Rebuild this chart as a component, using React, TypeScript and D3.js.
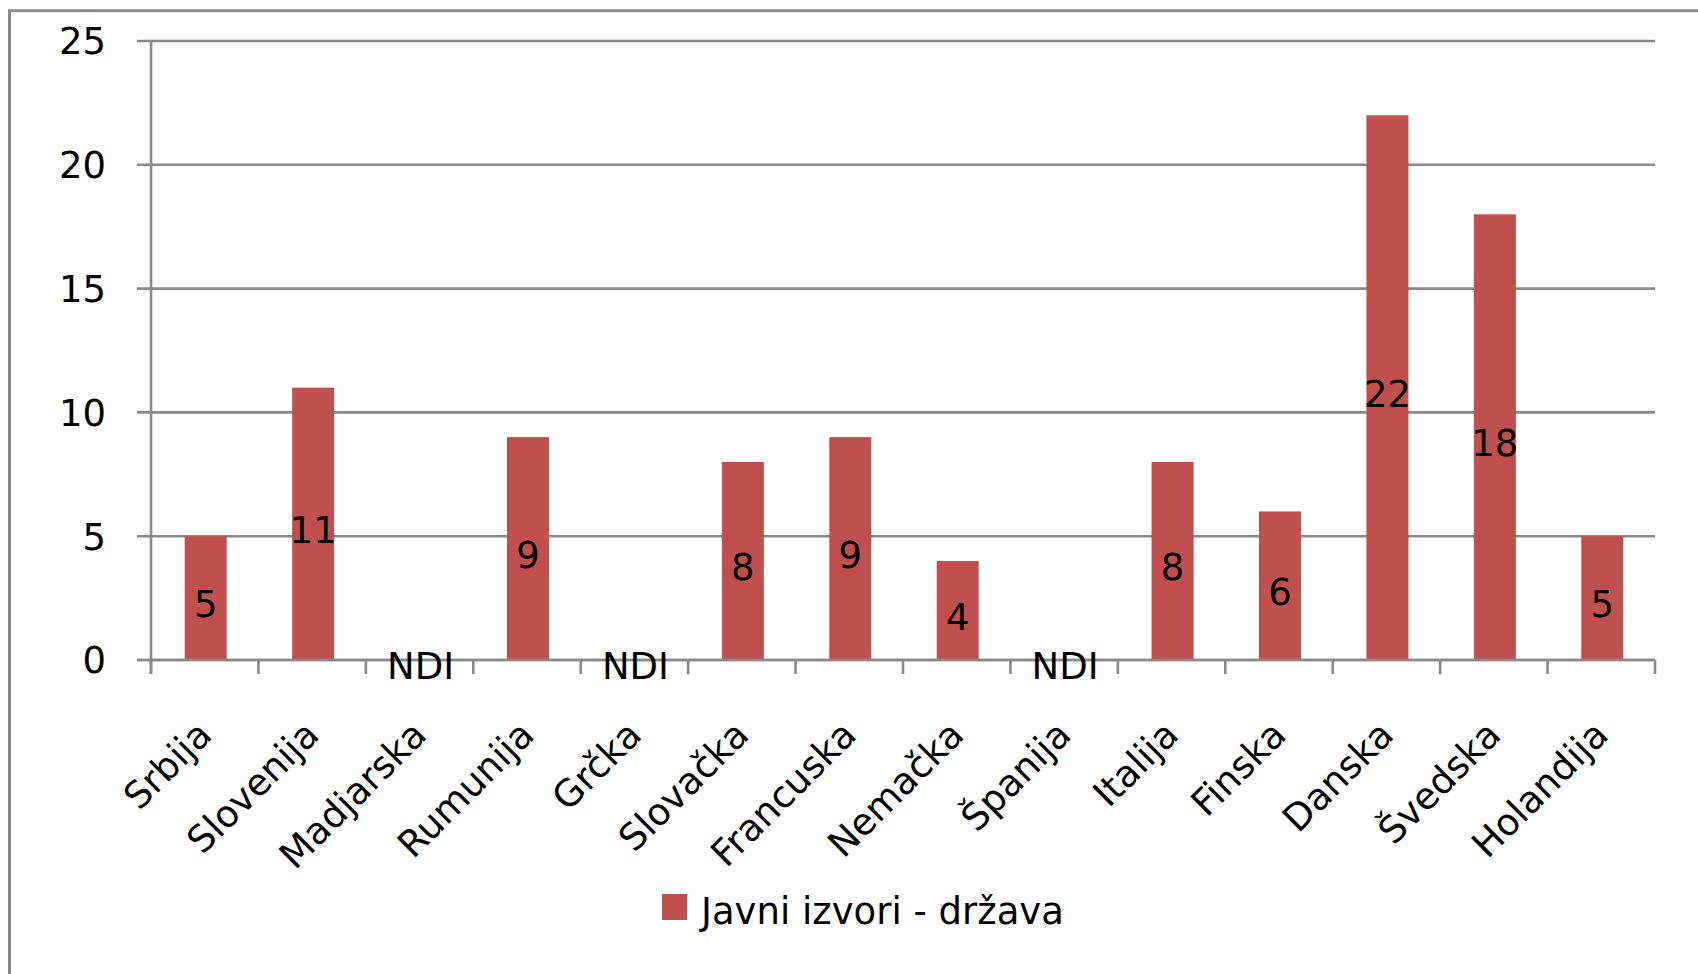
import React from "react";
import * as d3 from "d3";

const categories = [
  "Srbija", "Slovenija", "Madjarska", "Rumunija", "Grčka", "Slovačka", "Francuska",
  "Nemačka", "Španija", "Italija", "Finska", "Danska", "Švedska", "Holandija",
];
const values: (number | null)[] = [5, 11, null, 9, null, 8, 9, 4, null, 8, 6, 22, 18, 5];
const missingLabel = "NDI";
const yTicks = [0, 5, 10, 15, 20, 25];
const seriesName = "Javni izvori - država";

const W = 1698;
const H = 974;
const FONT = "'DejaVu Sans', sans-serif";
const GRID = "#8a8a8a";
const BAR = "#C0504D";

export default function App() {
  const left = 151;
  const right = 1655;
  const top = 41;
  const bottom = 660;

  const x = d3
    .scaleBand<string>()
    .domain(categories)
    .range([left + 1, right + 1])
    .paddingInner(0.609)
    .paddingOuter(0.3045);
  const step = x.step();
  const y = d3.scaleLinear().domain([0, 25]).range([bottom, top]);

  const boundaries = d3.range(categories.length + 1).map((i) => left + i * step);

  return (
    <svg width={W} height={H} style={{ position: "absolute", left: 0, top: 0, background: "#fff" }} fontFamily={FONT}>
      <defs>
        <clipPath id="plotclip">
          <rect x={0} y={0} width={W} height={679} />
        </clipPath>
      </defs>
      <rect x={9.5} y={10.7} width={W + 20} height={H + 20} fill="#fff" stroke={GRID} strokeWidth={3} />

      {yTicks.map((t) => (
        <line key={"g" + t} x1={137} x2={right} y1={y(t)} y2={y(t)} stroke={GRID} strokeWidth={2.6} />
      ))}
      <line x1={left} x2={left} y1={top} y2={bottom + 14} stroke={GRID} strokeWidth={2.6} />
      {boundaries.map((b, i) => (
        <line key={"t" + i} x1={b} x2={b} y1={bottom} y2={bottom + 14} stroke={GRID} strokeWidth={2.6} />
      ))}

      {yTicks.map((t) => (
        <text key={"yl" + t} x={106} y={y(t)} dy="0.36em" textAnchor="end" fontSize={37} fill="#000">
          {t}
        </text>
      ))}

      {categories.map((c, i) => {
        const v = values[i];
        if (v == null) return null;
        return <rect key={"b" + c} x={x(c)!} y={y(v)} width={x.bandwidth()} height={y(0) - y(v)} fill={BAR} />;
      })}
      <line x1={137} x2={right} y1={bottom} y2={bottom} stroke={GRID} strokeWidth={2.6} />

      <g clipPath="url(#plotclip)">
        {categories.map((c, i) => {
          const v = values[i];
          const cx = x(c)! + x.bandwidth() / 2;
          const mid = (y(0) + y(v ?? 0)) / 2 + 6;
          return (
            <text key={"dl" + c} x={cx} y={mid} dy="0.36em" textAnchor="middle" fontSize={37} fill="#000">
              {v == null ? missingLabel : String(v)}
            </text>
          );
        })}
      </g>

      {categories.map((c) => {
        const cx = x(c)! + x.bandwidth() / 2 + 8;
        const cy = 737;
        return (
          <text key={"xl" + c} x={cx} y={cy} textAnchor="end" fontSize={37} fill="#000" transform={`rotate(-45 ${cx} ${cy})`}>
            {c}
          </text>
        );
      })}

      <rect x={662} y={894} width={25} height={26} fill={BAR} />
      <text x={701} y={924} fontSize={37} fill="#000">
        {seriesName}
      </text>
    </svg>
  );
}
